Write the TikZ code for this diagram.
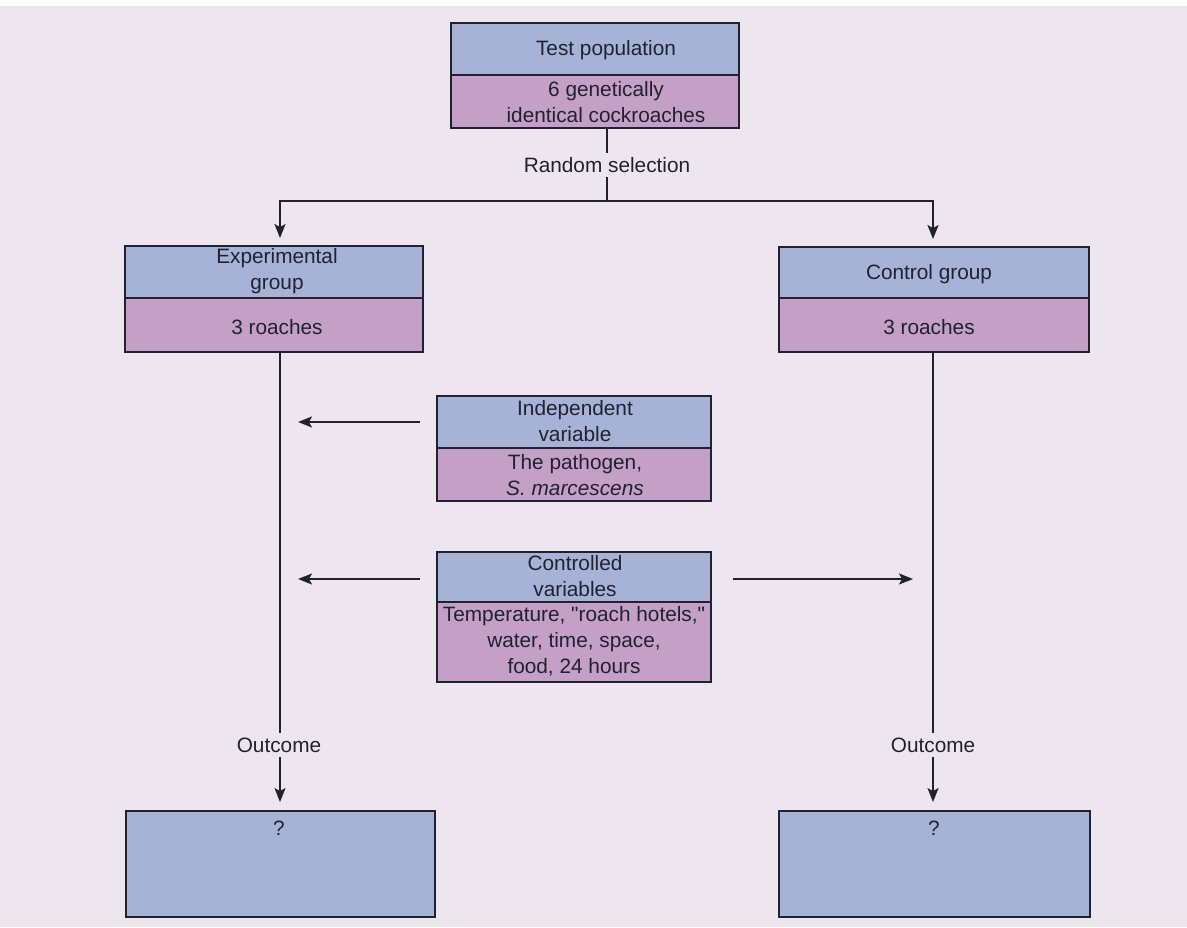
\documentclass[tikz,border=0pt]{standalone}
\usepackage{fontspec}
\setmainfont{Liberation Sans}[Ligatures=TeXOff]
\usetikzlibrary{arrows.meta,fit}
\definecolor{bg}{HTML}{EEE6EE}
\definecolor{boxblue}{HTML}{A6B3D6}
\definecolor{boxpink}{HTML}{C4A0C6}
\definecolor{ink}{HTML}{20222F}
\begin{document}
\begin{tikzpicture}[x=0.5pt,y=-0.5pt,
  bluepart/.style={draw=ink, fill=boxblue, line width=0.95pt, inner sep=0pt},
  pinkpart/.style={draw=ink, fill=boxpink, line width=0.95pt, inner sep=0pt},
  txt/.style={text=ink, font=\fontsize{10.4}{13}\selectfont, align=center, inner sep=2pt},
  conn/.style={draw=ink, line width=0.85pt},
  arr/.style={conn, -{Stealth[length=7pt,width=5.5pt,inset=1.5pt]}}]
\useasboundingbox (0,0) rectangle (1187,927);
\fill[white] (0,0) rectangle (1187,927);
\fill[bg] (0,6) rectangle (1187,927);

% Test population
\node[bluepart, fit={(451,23)(739,75)}] (tp1) {};
\node[pinkpart, fit={(451,75)(739,128)}] (tp2) {};
\node[txt] (tpt1) at (606,50) {Test population};
\node[txt] (tpt2) at (606,102) {6 genetically\\identical cockroaches};

% Experimental group
\node[bluepart, fit={(125,246)(423,298)}] (eg1) {};
\node[pinkpart, fit={(125,298)(423,352)}] (eg2) {};
\node[txt] (egt1) at (277,271) {Experimental\\group};
\node[txt] (egt2) at (277,327) {3 roaches};

% Control group
\node[bluepart, fit={(779,247)(1089,298)}] (cg1) {};
\node[pinkpart, fit={(779,298)(1089,352)}] (cg2) {};
\node[txt] (cgt1) at (929,274) {Control group};
\node[txt] (cgt2) at (929,327) {3 roaches};

% Independent variable
\node[bluepart, fit={(437,396)(711,448)}] (iv1) {};
\node[pinkpart, fit={(437,448)(711,501)}] (iv2) {};
\node[txt] (ivt1) at (575,421) {Independent\\variable};
\node[txt] (ivt2) at (575,475) {The pathogen,\\\textit{S. marcescens}};

% Controlled variables
\node[bluepart, fit={(437,552)(711,602)}] (cv1) {};
\node[pinkpart, fit={(437,602)(711,682)}] (cv2) {};
\node[txt] (cvt1) at (575,576) {Controlled\\variables};
\node[txt] (cvt2) at (574,641) {Temperature, "roach hotels,"\\water, time, space,\\food, 24 hours};

% Outcome boxes
\node[bluepart, fit={(126,811)(435,917)}] (oc1) {};
\node[bluepart, fit={(779,811)(1090,917)}] (oc2) {};
\node[txt] (q1) at (279,828) {?};
\node[txt] (q2) at (934,828) {?};

% Labels
\node[txt] (rs) at (607,165) {Random selection};
\node[txt] (out1) at (279,745) {Outcome};
\node[txt] (out2) at (933,745) {Outcome};

% Connectors
\coordinate (lx) at (280,0);
\coordinate (rx) at (933,0);
\coordinate (split) at (607,201);
\draw[conn] (tp2.south -| rs.north) -- (rs.north);
\draw[conn] (rs.south) -- (split);
\draw[arr, shorten >=3.5pt] (split) -| (eg1.north -| lx);
\draw[arr, shorten >=3.5pt] (split) -| (cg1.north -| rx);
\draw[conn] (eg2.south -| lx) -- (out1.north -| lx);
\draw[conn] (cg2.south -| rx) -- (out2.north -| rx);
\draw[arr, shorten >=4pt] (out1.south -| lx) -- (oc1.north -| lx);
\draw[arr, shorten >=4pt] (out2.south -| rx) -- (oc2.north -| rx);

\coordinate (a1s) at (420,422);
\coordinate (a1e) at (298,422);
\coordinate (a2s) at (420,579);
\coordinate (a2e) at (298,579);
\coordinate (a3s) at (733,579);
\coordinate (a3e) at (913,579);
\draw[arr] (a1s) -- (a1e);
\draw[arr] (a2s) -- (a2e);
\draw[arr] (a3s) -- (a3e);
\end{tikzpicture}
\end{document}
